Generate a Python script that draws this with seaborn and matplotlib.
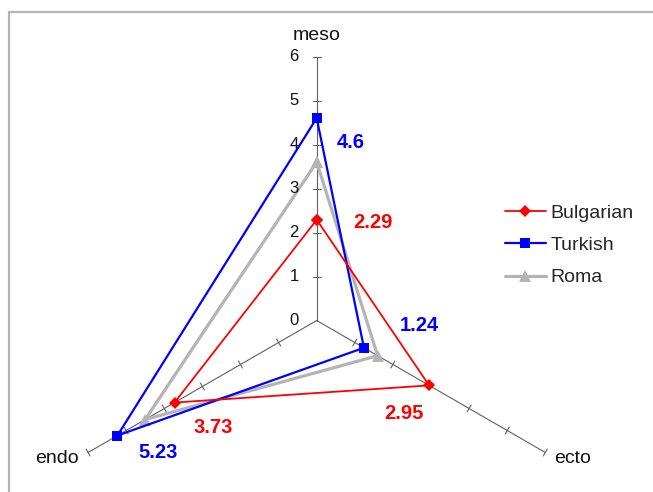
import numpy as np
import pandas as pd
import matplotlib
matplotlib.use("Agg")
import matplotlib.pyplot as plt
import seaborn as sns
from matplotlib.patches import Rectangle

# Somatotype components (radar axes) and group means
axes_names = ["meso", "ecto", "endo"]
bulgarian = [2.29, 2.95, 3.73]
turkish = [4.6, 1.24, 5.23]
roma = [3.6, 1.6, 4.5]
tick_values = [0, 1, 2, 3, 4, 5, 6]

sns.set_theme(style="white")
plt.rcParams["font.family"] = ["Liberation Sans", "DejaVu Sans"]

W, H = 653, 492
fig = plt.figure(figsize=(W / 100, H / 100), dpi=100)
ax = fig.add_axes([0, 0, 1, 1])
PX = 44.0                     # pixels per scale unit
cx, cy = 316.7, H - 320.5     # radar centre in pixels
ax.set_xlim(-cx / PX, (W - cx) / PX)
ax.set_ylim(-cy / PX, (H - cy) / PX)
ax.axis("off")

angles = np.deg2rad([90, -30, 210])
rmax = tick_values[-1]


def to_xy(vals):
    v = np.asarray(vals, float)
    return v * np.cos(angles), v * np.sin(angles)


# radial axes with cross ticks
axis_col = "#606060"
tick_half = 4.0 / PX
for a in angles:
    ax.plot([0, rmax * np.cos(a)], [0, rmax * np.sin(a)], color=axis_col, lw=0.8, zorder=1)
    px, py = -np.sin(a), np.cos(a)
    for t in tick_values[1:]:
        x0, y0 = t * np.cos(a), t * np.sin(a)
        ax.plot([x0 - px * tick_half, x0 + px * tick_half],
                [y0 - py * tick_half, y0 + py * tick_half],
                color=axis_col, lw=0.8, zorder=1)

# scale numbers along the meso axis
for t in tick_values:
    ax.annotate(str(t), (0, t), xytext=(-18, 0), textcoords="offset pixels",
                ha="right", va="center", fontsize=12, color="#111111")

# axis names
name_style = dict(fontsize=14, color="#111111")
ax.annotate(axes_names[0], (rmax * np.cos(angles[0]), rmax * np.sin(angles[0])),
            xytext=(0, 21), textcoords="offset pixels", ha="center", va="center", **name_style)
ax.annotate(axes_names[1], (rmax * np.cos(angles[1]), rmax * np.sin(angles[1])),
            xytext=(9, -6), textcoords="offset pixels", ha="left", va="center", **name_style)
ax.annotate(axes_names[2], (rmax * np.cos(angles[2]), rmax * np.sin(angles[2])),
            xytext=(-9, -6), textcoords="offset pixels", ha="right", va="center", **name_style)

# group polygons
series = [
    ("Bulgarian", bulgarian, "#ff0000", "D", 6.5, 1.3, 4),
    ("Turkish", turkish, "#0000ff", "s", 7.5, 1.6, 3),
    ("Roma", roma, "#b4b4b4", "^", 9, 2.3, 2),
]
for name, vals, col, mk, ms, lw, z in series:
    xs, ys = to_xy(vals)
    df = pd.DataFrame({"x": np.append(xs, xs[0]), "y": np.append(ys, ys[0])})
    sns.lineplot(data=df, x="x", y="y", sort=False, estimator=None, ax=ax,
                 color=col, lw=lw, marker=mk, markersize=ms, markeredgewidth=0,
                 label=name, zorder=z)

# value labels for Bulgarian and Turkish
label_offsets = {
    "Bulgarian": [(56, -3), (-25, -28), (39, -25)],
    "Turkish": [(34, -24), (55, 22), (41, -17)],
}
for name, vals, col, *_ in series:
    if name not in label_offsets:
        continue
    xs, ys = to_xy(vals)
    for v, x, y, off in zip(vals, xs, ys, label_offsets[name]):
        ax.annotate(f"{v:g}", (x, y), xytext=off, textcoords="offset pixels",
                    ha="center", va="center", fontsize=14.5, fontweight="bold", color=col)

ax.legend(loc="upper left", bbox_to_anchor=(505 / W, 1 - 204 / H),
          bbox_transform=fig.transFigure, frameon=False, fontsize=14,
          handlelength=2.1, handletextpad=0.25, labelspacing=0.76,
          borderpad=0, borderaxespad=0)

# outer chart frame
fig.patches.append(Rectangle((9 / W, -0.2), 2.0, 1.2 - 12 / H, transform=fig.transFigure,
                             fill=False, edgecolor="#b4b4b4", lw=1.6, zorder=0))

fig.savefig("out.png", dpi=100)
